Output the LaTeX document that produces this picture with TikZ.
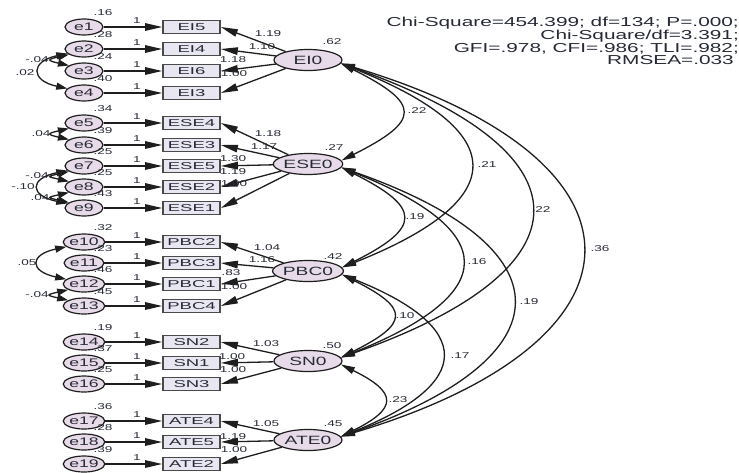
\documentclass[tikz,border=0pt]{standalone}
\usepackage{fontspec}
\usetikzlibrary{arrows.meta,shapes.geometric}
\newfontfamily\amos{Liberation Sans}[FakeStretch=1.6]
\newfontfamily\amosw{Liberation Sans}[FakeStretch=1.85]
\definecolor{efill}{HTML}{E8DBE9}
\definecolor{ofill}{HTML}{E8E7F1}
\definecolor{lc}{HTML}{1E1E1E}
\definecolor{bc}{HTML}{4A4A4A}
\definecolor{tc}{HTML}{262A36}
\begin{document}
\begin{tikzpicture}[x=1pt,y=-1pt,
  errn/.style={ellipse, draw=lc, line width=1.2pt, fill=efill, minimum width=38pt, minimum height=16pt, inner sep=0pt, font=\amos\fontsize{11}{11}\selectfont, text=tc},
  obsn/.style={rectangle, draw=bc, line width=1.7pt, fill=ofill, minimum width=57pt, minimum height=13pt, inner sep=0pt, font=\amosw\fontsize{10}{10}\selectfont, text=tc},
  latn/.style={ellipse, draw=lc, line width=1.2pt, fill=efill, minimum width=68pt, minimum height=21pt, inner sep=0pt, font=\amos\fontsize{12}{12}\selectfont, text=tc},
  num/.style={font=\amos\fontsize{8.5}{8.5}\selectfont, text=tc, inner sep=0pt},
  fitt/.style={font=\amos\fontsize{13}{13}\selectfont, text=tc, inner sep=0pt, anchor=base east},
  arr/.style={-{Triangle[length=17pt,width=7.5pt]}, line width=1.3pt, draw=lc},
  cov/.style={{Triangle[length=14pt,width=7pt]}-{Triangle[length=14pt,width=7pt]}, line width=1.3pt, draw=lc},
  ecov/.style={{Triangle[length=11pt,width=7pt]}-{Triangle[length=11pt,width=7pt]}, line width=1.3pt, draw=lc}
]
\fill[white] (0,0) rectangle (739,472);
\useasboundingbox (0,0) rectangle (739,472);

% fit statistics
\node[fitt] (f1) at (739,26.5) {Chi-Square=454.399; df=134; P=.000;};
\node[fitt] (f2) at (739,39.5) {Chi-Square/df=3.391;};
\node[fitt] (f3) at (739,52.5) {GFI=.978, CFI=.986; TLI=.982;};
\node[fitt] (f4) at (734,64.5) {RMSEA=.033};

% error covariance labels (drawn first, arrowheads lie over them)
\node[num] (c23) at (37,60) {-.04};
\node[num] (c24) at (25,73) {.02};
\node[num] (c56) at (41,134) {.04};
\node[num] (c78) at (37,176) {-.04};
\node[num] (c79) at (23,187) {-.10};
\node[num] (c89) at (40,198) {.04};
\node[num] (c1012) at (27,263) {.05};
\node[num] (c1213) at (37,295) {-.04};

% errors, indicators
\foreach \i/\yy/\bx/\vr in {1/27/EI5/.16, 2/49/EI4/.28, 3/71/EI6/.24, 4/93/EI3/.40,
  5/123/ESE4/.34, 6/145/ESE3/.39, 7/166/ESE5/.25, 8/187/ESE2/.25, 9/208/ESE1/.43,
  10/242/PBC2/.32, 11/263/PBC3/.23, 12/284/PBC1/.46, 13/306/PBC4/.45,
  14/342/SN2/.19, 15/363/SN1/.37, 16/384/SN3/.25,
  17/421/ATE4/.36, 18/442/ATE5/.28, 19/464/ATE2/.39}{
  \node[errn] (e\i) at (84,\yy) {e\i};
  \node[obsn] (\bx) at (191.5,\yy) {\bx};
  \draw[arr] (e\i) -- (\bx);
  \node[num] (one\i) at (137,{\yy-6}) {1};
  \node[num] (v\i) at (103,{\yy-14}) {\vr};
}

% latent variables
\node[latn] (EI) at (308,60) {EI0};
\node[latn] (ESE) at (308,164) {ESE0};
\node[latn] (PBC) at (308,271) {PBC0};
\node[latn] (SN) at (308,361) {SN0};
\node[latn] (ATE) at (308,440) {ATE0};
\node[num] (vEI) at (332,42) {.62};
\node[num] (vESE) at (334,148) {.27};
\node[num] (vPBC) at (333,257) {.42};
\node[num] (vSN) at (332,346) {.50};
\node[num] (vATE) at (333,424) {.45};

% loadings
\foreach \lat/\bx in {EI/EI5, EI/EI4, EI/EI6, EI/EI3, ESE/ESE4, ESE/ESE3, ESE/ESE5, ESE/ESE2, ESE/ESE1,
  PBC/PBC2, PBC/PBC3, PBC/PBC1, PBC/PBC4, SN/SN2, SN/SN1, SN/SN3, ATE/ATE4, ATE/ATE5, ATE/ATE2}{
  \draw[arr] (\lat) -- (\bx.east);
}
\foreach \xx/\yy/\t in {268/34/1.19, 262/47/1.10, 233/60/1.18, 234/74/1.00,
  268/134/1.18, 264/147/1.17, 233/159/1.30, 233/172/1.19, 234/184/1.00,
  267/248/1.04, 262/260/1.16, 231/273/.83, 234/287/1.00,
  266/344/1.03, 232/357/1.00, 233/370/1.00,
  266/424/1.05, 233/437/1.19, 234/450/1.00}{
  \node[num] at (\xx,\yy) {\t};
}

% error covariances
\draw[ecov] (e2.200) .. controls +(-22,5) and +(-22,-5) .. (e3.160);
\draw[ecov] (e2.195) .. controls +(-37,8) and +(-37,-8) .. (e4.165);
\draw[ecov] (e5.200) .. controls +(-22,5) and +(-22,-5) .. (e6.160);
\draw[ecov] (e7.200) .. controls +(-22,5) and +(-22,-5) .. (e8.160);
\draw[ecov] (e7.195) .. controls +(-38,8) and +(-38,-8) .. (e9.165);
\draw[ecov] (e8.200) .. controls +(-22,5) and +(-22,-5) .. (e9.160);
\draw[ecov] (e10.195) .. controls +(-37,8) and +(-37,-8) .. (e12.165);
\draw[ecov] (e12.200) .. controls +(-22,5) and +(-22,-5) .. (e13.160);

% latent covariances
\draw[cov] (EI.-6) .. controls +(80,40) and +(80,-40) .. (ESE.6);
\draw[cov] (EI.-6) .. controls +(171,68) and +(171,-68) .. (PBC.6);
\draw[cov] (EI.-6) .. controls +(253,89) and +(253,-89) .. (SN.6);
\draw[cov] (EI.-6) .. controls +(321,96) and +(321,-96) .. (ATE.6);
\draw[cov] (ESE.-6) .. controls +(80,40) and +(80,-40) .. (PBC.6);
\draw[cov] (ESE.-6) .. controls +(160,64) and +(160,-64) .. (SN.6);
\draw[cov] (ESE.-6) .. controls +(228,80) and +(228,-80) .. (ATE.6);
\draw[cov] (PBC.-6) .. controls +(68,34) and +(68,-34) .. (SN.6);
\draw[cov] (PBC.-6) .. controls +(133,53) and +(133,-53) .. (ATE.6);
\draw[cov] (SN.-6) .. controls +(57,28) and +(57,-28) .. (ATE.6);

\foreach \xx/\yy/\t in {417/111/.22, 487/165/.21, 541/210/.22, 600/249/.36,
  415/217/.19, 477/262/.16, 529/302/.19, 405/316/.10, 460/356/.17, 398/400/.23}{
  \node[num] at (\xx,\yy) {\t};
}
\end{tikzpicture}
\end{document}
